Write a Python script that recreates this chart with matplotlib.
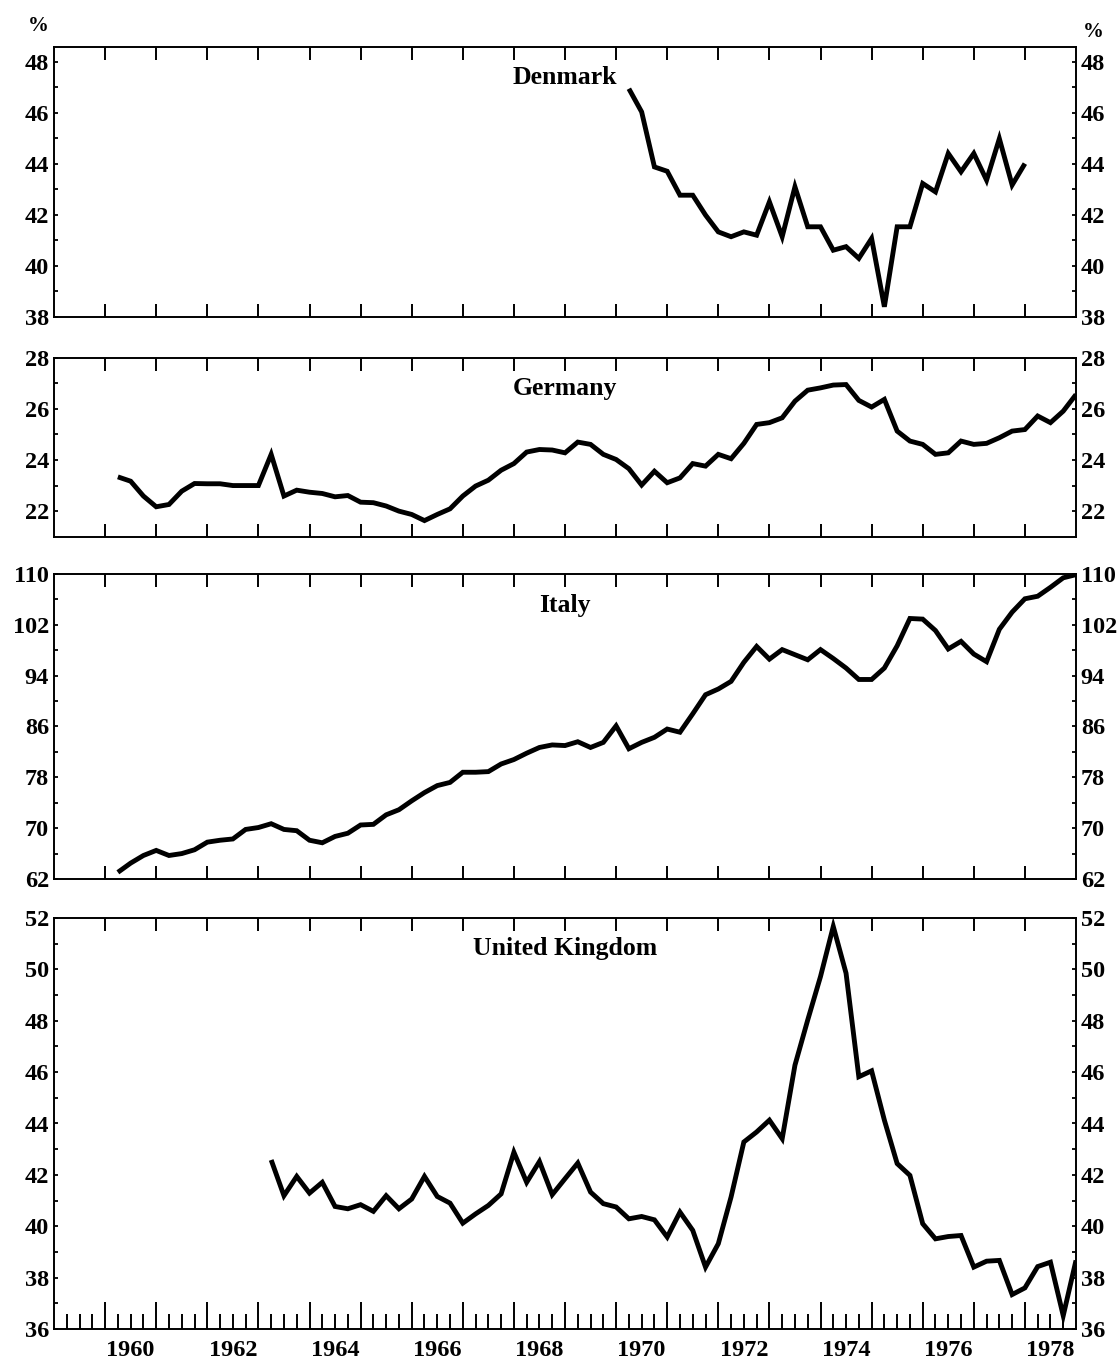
import matplotlib
matplotlib.use("Agg")
import matplotlib.pyplot as plt
import numpy as np

plt.rcParams['font.family'] = ['Liberation Serif', 'DejaVu Serif']
plt.rcParams['font.weight'] = 'bold'

# ---------------- data (quarterly) ----------------
den_start = (1970, 1)
den_values = [46.95, 46.04, 43.88, 43.71, 42.77, 42.77, 41.99, 41.33, 41.14, 41.33,
              41.20, 42.51, 41.14, 43.10, 41.53, 41.53, 40.61, 40.75, 40.29, 41.07,
              38.39, 41.53, 41.53, 43.23, 42.90, 44.41, 43.69, 44.41, 43.36, 44.99,
              43.17, 44.01]

ger_start = (1960, 1)
ger_values = [23.34, 23.17, 22.59, 22.17, 22.26, 22.78, 23.08, 23.07, 23.07, 23.00,
              23.00, 23.00, 24.22, 22.59, 22.82, 22.74, 22.69, 22.56, 22.61, 22.35,
              22.33, 22.20, 22.00, 21.87, 21.63, 21.87, 22.09, 22.59, 22.98, 23.21,
              23.60, 23.86, 24.31, 24.41, 24.39, 24.28, 24.70, 24.61, 24.22, 24.02,
              23.66, 23.02, 23.56, 23.11, 23.30, 23.86, 23.76, 24.22, 24.05, 24.65,
              25.39, 25.46, 25.65, 26.30, 26.73, 26.82, 26.93, 26.95, 26.33, 26.07,
              26.37, 25.13, 24.74, 24.61, 24.22, 24.28, 24.74, 24.61, 24.65, 24.87,
              25.13, 25.19, 25.72, 25.46, 25.91, 26.56]

ita_start = (1960, 1)
ita_values = [63.05, 64.5, 65.7, 66.5, 65.7, 66.0, 66.6, 67.8, 68.1, 68.3,
              69.8, 70.1, 70.7, 69.8, 69.6, 68.1, 67.7, 68.7, 69.2, 70.5,
              70.6, 72.1, 72.9, 74.3, 75.6, 76.7, 77.2, 78.8, 78.8, 78.9,
              80.1, 80.8, 81.8, 82.7, 83.1, 83.0, 83.6, 82.7, 83.5, 86.1,
              82.5, 83.5, 84.3, 85.6, 85.1, 88.0, 91.0, 91.9, 93.1, 96.1,
              98.6, 96.6, 98.1, 97.3, 96.5, 98.1, 96.7, 95.2, 93.4, 93.4,
              95.2, 98.7, 103.0, 102.9, 101.1, 98.2, 99.4, 97.4, 96.2, 101.3,
              104.0, 106.1, 106.5, 107.9, 109.4, 109.9]

uk_start = (1963, 1)
uk_values = [42.58, 41.19, 41.94, 41.29, 41.71, 40.77, 40.68, 40.84, 40.58, 41.19,
             40.68, 41.06, 41.94, 41.16, 40.90, 40.12, 40.48, 40.81, 41.26, 42.88,
             41.71, 42.52, 41.23, 41.85, 42.46, 41.33, 40.88, 40.75, 40.29, 40.38,
             40.25, 39.58, 40.55, 39.84, 38.41, 39.32, 41.14, 43.28, 43.67, 44.13,
             43.41, 46.27, 48.03, 49.72, 51.67, 49.85, 45.82, 46.05, 44.13, 42.44,
             41.98, 40.10, 39.51, 39.60, 39.64, 38.41, 38.64, 38.67, 37.34, 37.60,
             38.43, 38.60, 36.52, 38.67]

countries = ["Denmark", "Germany", "Italy", "United Kingdom"]
year_ticks = list(range(1960, 1979))
year_labels = [str(y) for y in range(1960, 1979, 2)]

den_yticks = [38, 40, 42, 44, 46, 48]
ger_yticks = [22, 24, 26, 28]
ita_yticks = [62, 70, 78, 86, 94, 102, 110]
uk_yticks = [36, 38, 40, 42, 44, 46, 48, 50, 52]


def quarter_x(start, n):
    y, q = start
    return [y + (q + i) / 4.0 for i in range(n)]


# ---------------- layout ----------------
W_PX, H_PX = 1118, 1362
fig = plt.figure(figsize=(W_PX / 100, H_PX / 100), dpi=100)
L_PX, R_PX = 54, 1076
PT = 0.72  # points per pixel at 100 dpi


def rect(top, bottom):
    return [L_PX / W_PX, 1 - bottom / H_PX, (R_PX - L_PX) / W_PX, (bottom - top) / H_PX]


panels = [
    (countries[0], den_start, den_values, (38, 48.6), den_yticks, (46.7, 316.7)),
    (countries[1], ger_start, ger_values, (21, 28), ger_yticks, (357.7, 536.7)),
    (countries[2], ita_start, ita_values, (62, 110), ita_yticks, (574, 879)),
    (countries[3], uk_start, uk_values, (36, 52), uk_yticks, (918, 1329)),
]

tick_font = dict(fontsize=17.5, fontweight='bold')

for name, start, vals, ylim, majors, (top, bottom) in panels:
    ax = fig.add_axes(rect(top, bottom))
    x = quarter_x(start, len(vals))
    ax.plot(x, vals, color='black', lw=3.5, solid_joinstyle='miter', solid_capstyle='butt')
    ax.set_xlim(1959, 1979)
    ax.set_ylim(*ylim)
    for s in ax.spines.values():
        s.set_linewidth(1.4)

    step = majors[1] - majors[0]
    minors = [m + step / 2 for m in majors if ylim[0] < m + step / 2 < ylim[1]]
    ax.set_yticks(majors)
    ax.set_yticks(minors, minor=True)
    ax.set_yticklabels([str(m) for m in majors], **tick_font)
    ax.tick_params(axis='y', which='both', direction='in', left=True, right=True,
                   labelleft=True, labelright=True, length=4 * PT, width=1.3, pad=3.5)
    ax.tick_params(axis='y', which='minor', labelleft=False, labelright=False)

    ax.set_xticks(year_ticks)
    ax.set_xticklabels([])
    if name != "United Kingdom":
        ax.tick_params(axis='x', which='major', direction='in', top=True, bottom=True,
                       length=13 * PT, width=1.4, labelbottom=False)
    else:
        ax.set_xticks(np.arange(1959.25, 1979, 0.25), minor=True)
        ax.tick_params(axis='x', which='major', direction='in', top=False, bottom=True,
                       length=27 * PT, width=1.4, labelbottom=False)
        ax.tick_params(axis='x', which='minor', direction='in', top=False, bottom=True,
                       length=15 * PT, width=1.4)
        sec_top = ax.secondary_xaxis('top')
        sec_top.set_xticks(year_ticks)
        sec_top.tick_params(direction='in', length=13 * PT, width=1.4, labeltop=False)
        for s in sec_top.spines.values():
            s.set_visible(False)
        sec_lab = ax.secondary_xaxis('bottom')
        sec_lab.set_xticks([int(y) + 0.5 for y in year_labels])
        sec_lab.set_xticklabels(year_labels, **tick_font)
        sec_lab.tick_params(length=0, pad=8)
        for s in sec_lab.spines.values():
            s.set_visible(False)

    h_px = bottom - top
    ax.text(0.5, 1 - 31 / h_px, name, transform=ax.transAxes, ha='center', va='center',
            fontsize=18.5, fontweight='bold')

fig.text(38 / W_PX, 1 - 26 / H_PX, "%", ha='center', va='center', fontsize=15, fontweight='bold')
fig.text(1093 / W_PX, 1 - 32 / H_PX, "%", ha='center', va='center', fontsize=15, fontweight='bold')

fig.savefig("out.png", dpi=100, facecolor='white')
